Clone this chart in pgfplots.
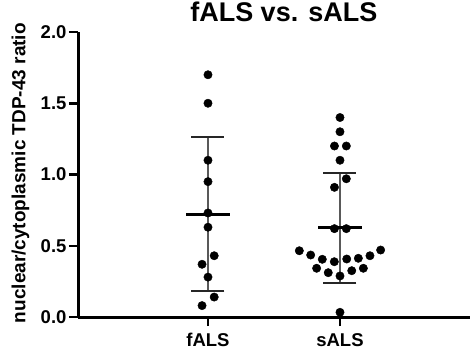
\documentclass[border=0pt]{standalone}
\usepackage{fontspec}
\setmainfont{Liberation Sans}
\usepackage{pgfplots}
\pgfplotsset{compat=1.18}

\begin{document}
\begin{tikzpicture}[x=1pt,y=1pt]
\useasboundingbox (0,0) rectangle (470,360);
\begin{axis}[
  at={(78pt,43pt)}, anchor=origin,
  scale only axis, width=392pt, height=285pt,
  xmin=0.0152, xmax=2.985, ymin=0, ymax=2,
  axis x line=bottom, axis y line=left,
  axis line style={line width=3pt, -},
  xtick={1,2}, xticklabels={fALS,sALS},
  ytick={0,0.5,1,1.5,2},
  yticklabel style={xshift=1pt, /pgf/number format/.cd, fixed, fixed zerofill, precision=1},
  /pgf/number format/assume math mode=true,
  tick align=outside, major tick length=9pt,
  tick style={line width=2.5pt, black},
  ticklabel style={font=\fontsize{18.5}{20}\selectfont\bfseries},
  xticklabel style={yshift=-4pt},
  title={fALS vs. sALS},
  title style={at={(rel axis cs:0.525,1)}, anchor=base, yshift=5pt,
    font=\fontsize{27}{30}\selectfont\bfseries},
  ylabel={nuclear/cytoplasmic TDP-43 ratio},
  ylabel style={at={(axis description cs:-0.134,0.505)}, anchor=base, rotate=0,
    font=\fontsize{19}{21}\selectfont\bfseries},
  clip=false,
]
% mean +/- SD
\addplot[draw=none, mark=none, forget plot,
  error bars/.cd, y dir=both, y explicit,
  error bar style={line width=1.6pt, black!65},
  error mark=|, error mark options={mark size=16.5pt, line width=2pt, black!85}]
  coordinates {(1,0.72) +- (0,0.54) (2,0.625) +- (0,0.385)};
\addplot[only marks, mark=-, mark size=22pt, mark options={line width=3pt, black}]
  coordinates {(1,0.72) (2,0.625)};
% fALS
\addplot[only marks, mark=*, mark size=4.2pt, black]
  coordinates {
  (1,1.70) (1,1.50) (1,1.10) (1,0.95) (1,0.73) (1,0.63)
  (1.047,0.43) (0.955,0.37) (1,0.28) (1.047,0.14) (0.955,0.08)};
% sALS
\addplot[only marks, mark=*, mark size=4.2pt, black]
  coordinates {
  (2,1.40) (2,1.30) (1.958,1.20) (2.048,1.20) (2,1.10)
  (2.048,0.97) (1.958,0.91) (1.958,0.62) (2.048,0.62)
  (1.692,0.465) (2.308,0.47) (1.778,0.435) (2.227,0.43)
  (1.866,0.405) (1.957,0.388) (2.051,0.407) (2.139,0.412)
  (1.823,0.342) (2.177,0.342) (1.911,0.311) (2.089,0.325)
  (2,0.288) (2,0.033)};
\end{axis}
\end{tikzpicture}
\end{document}
